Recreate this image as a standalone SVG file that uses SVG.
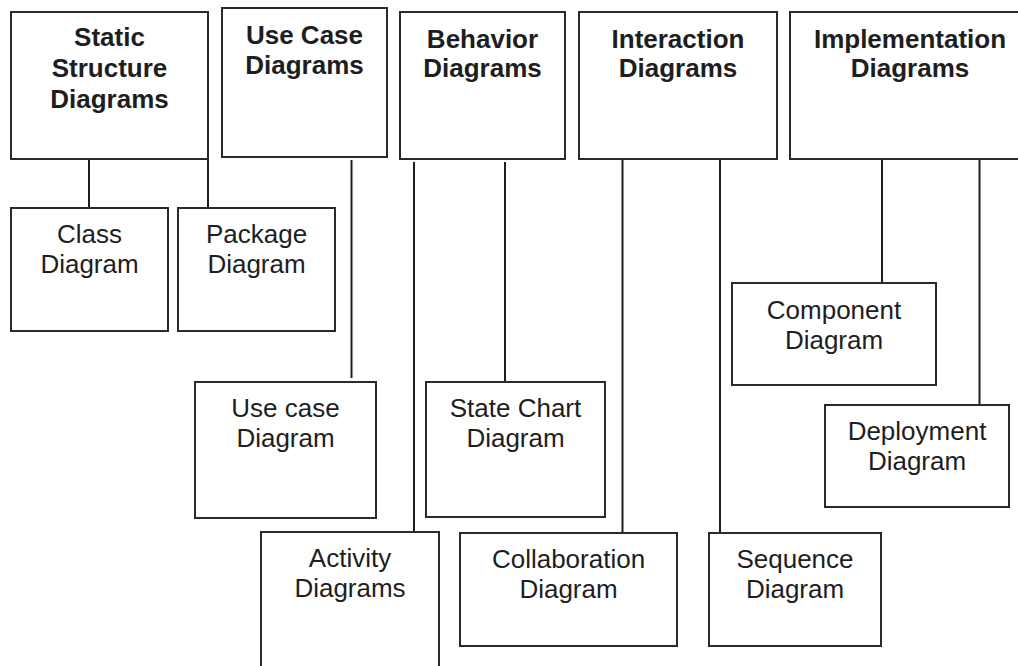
<svg xmlns="http://www.w3.org/2000/svg" width="1018" height="666" viewBox="0 0 1018 666">
<style>
.box{fill:#fff;stroke:#2a2a2a;stroke-width:2}
.t{font-family:"Liberation Sans",Arial,sans-serif;font-size:26px;fill:#1e1e1e;text-anchor:middle}
.b{font-weight:bold}
.c{stroke:#1e1e1e;stroke-width:2;fill:none}
</style>
<rect width="1018" height="666" fill="#fff"/>
<g id="connectors">
<line class="c" x1="89" y1="159" x2="89" y2="208"/>
<line class="c" x1="208" y1="159" x2="208" y2="208"/>
<line class="c" x1="351.5" y1="160" x2="351.5" y2="378"/>
<line class="c" x1="414" y1="162" x2="414" y2="532"/>
<line class="c" x1="505" y1="162" x2="505" y2="382"/>
<line class="c" x1="622.5" y1="159" x2="622.5" y2="533"/>
<line class="c" x1="720" y1="159" x2="720" y2="533"/>
<line class="c" x1="882" y1="159" x2="882" y2="283"/>
<line class="c" x1="979.5" y1="159" x2="979.5" y2="405"/>
</g>
<g id="static">
<rect class="box" x="11" y="12" width="197" height="147"/>
<text class="t b" x="109.5" y="46">Static</text>
<text class="t b" x="109.5" y="77">Structure</text>
<text class="t b" x="109.5" y="108">Diagrams</text>
</g>
<g id="usecase">
<rect class="box" x="222" y="8" width="165" height="149"/>
<text class="t b" x="304.5" y="44">Use Case</text>
<text class="t b" x="304.5" y="74">Diagrams</text>
</g>
<g id="behavior">
<rect class="box" x="400" y="12" width="165" height="147"/>
<text class="t b" x="482.5" y="48">Behavior</text>
<text class="t b" x="482.5" y="77">Diagrams</text>
</g>
<g id="interaction">
<rect class="box" x="579" y="12" width="198" height="147"/>
<text class="t b" x="678" y="48">Interaction</text>
<text class="t b" x="678" y="77">Diagrams</text>
</g>
<g id="implementation">
<rect class="box" x="790" y="12" width="250" height="147"/>
<text class="t b" x="910" y="48">Implementation</text>
<text class="t b" x="910" y="77">Diagrams</text>
</g>
<g id="class">
<rect class="box" x="11" y="208" width="157" height="123"/>
<text class="t" x="89.5" y="243">Class</text>
<text class="t" x="89.5" y="273">Diagram</text>
</g>
<g id="package">
<rect class="box" x="178" y="208" width="157" height="123"/>
<text class="t" x="256.5" y="243">Package</text>
<text class="t" x="256.5" y="273">Diagram</text>
</g>
<g id="usecasediagram">
<rect class="box" x="195" y="382" width="181" height="136"/>
<text class="t" x="285.5" y="417">Use case</text>
<text class="t" x="285.5" y="447">Diagram</text>
</g>
<g id="statechart">
<rect class="box" x="426" y="382" width="179" height="135"/>
<text class="t" x="515.5" y="417">State Chart</text>
<text class="t" x="515.5" y="447">Diagram</text>
</g>
<g id="activity">
<rect class="box" x="261" y="532" width="178" height="140"/>
<text class="t" x="350" y="567">Activity</text>
<text class="t" x="350" y="597">Diagrams</text>
</g>
<g id="collaboration">
<rect class="box" x="460" y="533" width="217" height="113"/>
<text class="t" x="568.5" y="568">Collaboration</text>
<text class="t" x="568.5" y="598">Diagram</text>
</g>
<g id="sequence">
<rect class="box" x="709" y="533" width="172" height="113"/>
<text class="t" x="795" y="568">Sequence</text>
<text class="t" x="795" y="598">Diagram</text>
</g>
<g id="component">
<rect class="box" x="732" y="283" width="204" height="102"/>
<text class="t" x="834" y="319">Component</text>
<text class="t" x="834" y="349">Diagram</text>
</g>
<g id="deployment">
<rect class="box" x="825" y="405" width="184" height="102"/>
<text class="t" x="917" y="440">Deployment</text>
<text class="t" x="917" y="470">Diagram</text>
</g>
</svg>
